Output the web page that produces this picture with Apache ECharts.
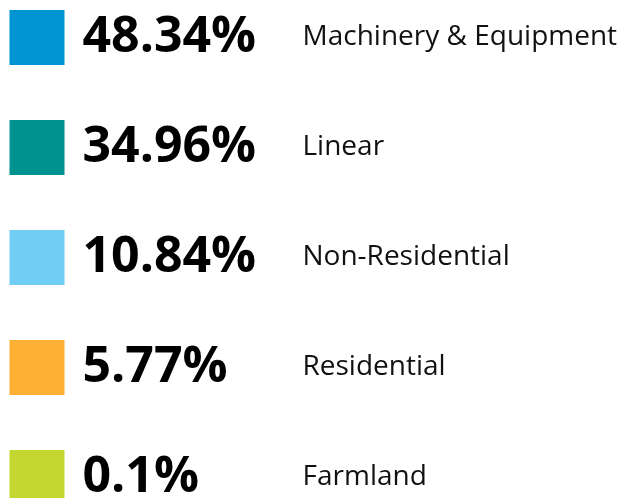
<!DOCTYPE html>
<html><head><meta charset="utf-8">
<script src="https://cdn.jsdelivr.net/npm/echarts@6/dist/echarts.min.js"></script>
<style>html,body{margin:0;padding:0;background:#fff}#c{width:620px;height:498px}</style>
</head><body><div id="c"></div>
<script>
const categories = ['Machinery & Equipment', 'Linear', 'Non-Residential', 'Residential', 'Farmland'];
const percentLabels = ['48.34%', '34.96%', '10.84%', '5.77%', '0.1%'];
const values = [48.34, 34.96, 10.84, 5.77, 0.1];
const colors = ['#0094D2', '#00928E', '#72CDF4', '#FDB034', '#C4D731'];

const chart = echarts.init(document.getElementById('c'), null, {renderer: 'canvas'});
chart.setOption({
  animation: false,
  grid: {left: 0, right: 0, top: -17.5, height: 550, outerBoundsMode: 'none', containLabel: false},
  xAxis: {type: 'value', min: 0, max: 620, show: false},
  yAxis: {type: 'category', data: categories, inverse: true, show: false},
  series: [{
    type: 'scatter',
    symbol: 'rect',
    symbolSize: 55,
    clip: false,
    itemStyle: {opacity: 1},
    emphasis: {disabled: true},
    data: categories.map((c, i) => ({
      value: [37, c],
      pct: percentLabels[i],
      v: values[i],
      itemStyle: {color: colors[i], opacity: 1}
    })),
    label: {
      show: true,
      position: 'right',
      distance: 18,
      formatter: p => '{pct|' + p.data.pct + '}{name|' + p.name + '}',
      rich: {
        pct: {fontFamily: 'Open Sans', fontWeight: 700, fontSize: 50, color: '#000', width: 220, verticalAlign: 'middle'},
        name: {fontFamily: 'Open Sans', fontWeight: 400, fontSize: 28, color: '#111', verticalAlign: 'middle'}
      }
    }
  }]
});
</script></body></html>
